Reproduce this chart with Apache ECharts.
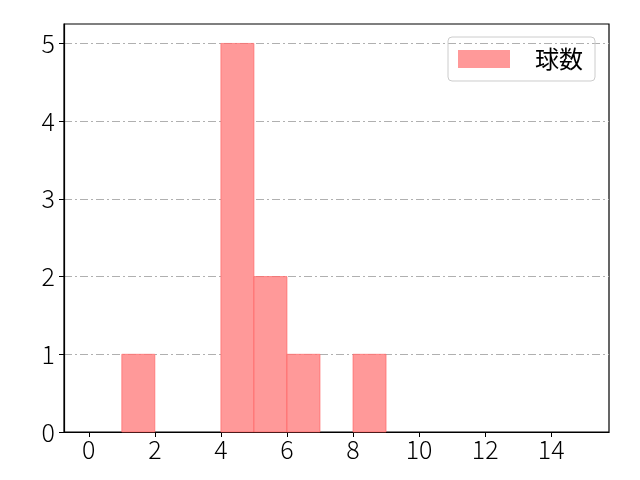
<!DOCTYPE html>
<html><head><meta charset="utf-8">
<script src="https://cdn.jsdelivr.net/npm/echarts@6/dist/echarts.min.js"></script>
<style>html,body{margin:0;padding:0;background:#fff}#c{width:640px;height:480px}</style>
</head><body><div id="c"></div>
<script>
const binStarts = [0,1,2,3,4,5,6,7,8,9,10,11,12,13,14];
const counts    = [0,1,0,0,5,2,1,0,1,0,0,0,0,0,0];
const binWidth = 1;
const xTicks = [0,2,4,6,8,10,12,14];
const yTicks = [0,1,2,3,4,5];
const seriesName = '球数';

const data = binStarts.map((s,i)=>[s, s+binWidth, counts[i]]).filter(d=>d[2]>0);
const font = '"Noto Sans CJK JP", sans-serif';
const chart = echarts.init(document.getElementById('c'));
chart.setOption({
  animation:false,
  grid:{left:64,right:31,top:24,bottom:48,show:true,borderColor:'#000',borderWidth:1.2,backgroundColor:'transparent'},
  legend:{
    right:45, top:37, orient:'vertical',
    data:[{name:seriesName, icon:'rect'}],
    itemWidth:52, itemHeight:18, itemGap:10,
    padding:[10,12,10,10],
    borderColor:'#cccccc', borderWidth:1, borderRadius:4,
    textStyle:{fontFamily:font,fontSize:24,color:'#000',padding:[0,0,0,20]}
  },
  xAxis:{
    type:'value', min:-0.75, max:15.75,
    axisLine:{show:true,onZero:false,lineStyle:{color:'#000',width:1.2}},
    axisTick:{show:true,length:5,lineStyle:{color:'#000'},customValues:xTicks},
    axisLabel:{customValues:xTicks,fontFamily:font,fontSize:25,fontWeight:300,color:'#000',margin:5},
    splitLine:{show:false}
  },
  yAxis:{
    type:'value', min:0, max:5.25,
    axisLine:{show:true,onZero:false,lineStyle:{color:'#000',width:1.2}},
    axisTick:{show:true,length:5,lineStyle:{color:'#000'},customValues:yTicks},
    axisLabel:{customValues:yTicks,fontFamily:font,fontSize:25,fontWeight:300,color:'#000',margin:9},
    splitLine:{show:true,lineStyle:{color:'#b0b0b0',width:1,type:[8,3,2,3]}}
  },
  series:[{
    name:seriesName,
    type:'custom',
    itemStyle:{color:'#ff9999'},
    renderItem:function(params,api){
      const p0 = api.coord([api.value(0),0]);
      const p1 = api.coord([api.value(1),api.value(2)]);
      return {type:'rect',shape:{x:p0[0],y:p1[1],width:p1[0]-p0[0],height:p0[1]-p1[1]},
        style:{fill:'#ff9999',stroke:'rgba(255,90,90,0.6)',lineWidth:1}};
    },
    encode:{x:[0,1],y:2},
    data:data,
    z:3
  }]
});
</script></body></html>
